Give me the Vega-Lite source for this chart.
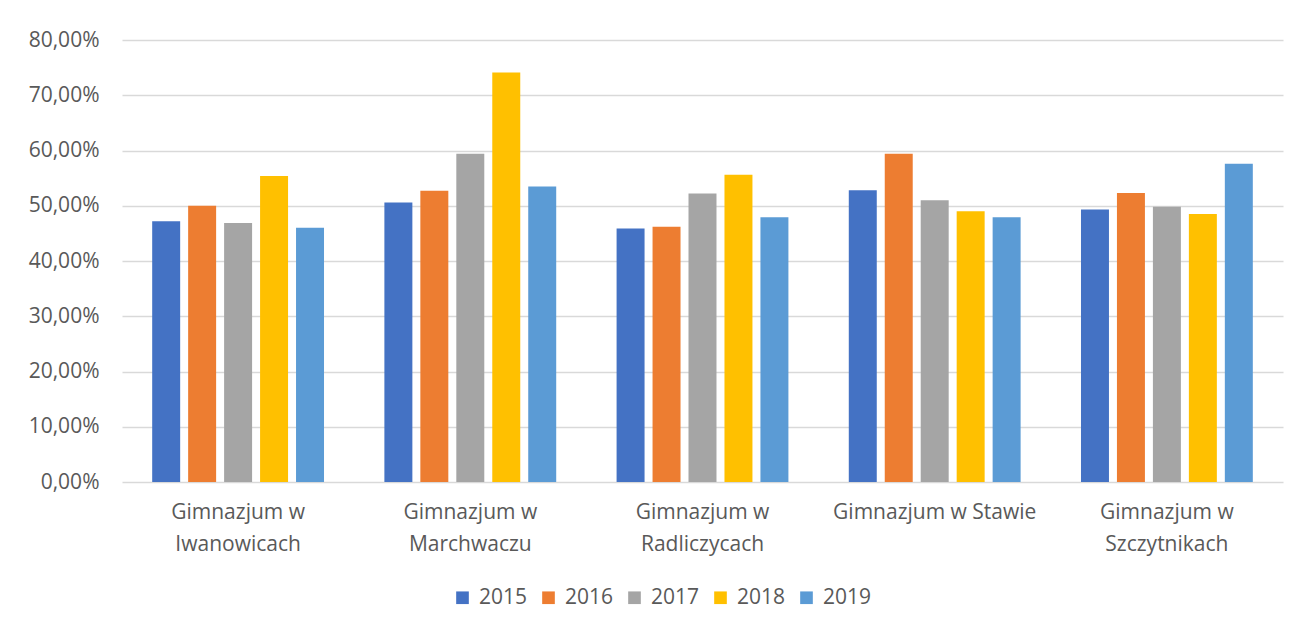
{
  "$schema": "https://vega.github.io/schema/vega-lite/v6.json",
  "width": 1161,
  "height": 442,
  "autosize": {"type": "none"},
  "padding": {"left": 122, "top": 40, "right": 21, "bottom": 143},
  "background": "#ffffff",
  "config": {
    "font": "Open Sans",
    "view": {"stroke": null},
    "axis": {"labelColor": "#595959", "labelFontSize": 21, "labelFont": "Open Sans"},
    "legend": {"labelColor": "#595959", "labelFontSize": 21, "labelFont": "Open Sans"}
  },
  "data": {
    "values": [
      {"school": "Gimnazjum w Iwanowicach", "year": "2015", "value": 0.472},
      {"school": "Gimnazjum w Iwanowicach", "year": "2016", "value": 0.500},
      {"school": "Gimnazjum w Iwanowicach", "year": "2017", "value": 0.469},
      {"school": "Gimnazjum w Iwanowicach", "year": "2018", "value": 0.554},
      {"school": "Gimnazjum w Iwanowicach", "year": "2019", "value": 0.460},
      {"school": "Gimnazjum w Marchwaczu", "year": "2015", "value": 0.506},
      {"school": "Gimnazjum w Marchwaczu", "year": "2016", "value": 0.527},
      {"school": "Gimnazjum w Marchwaczu", "year": "2017", "value": 0.594},
      {"school": "Gimnazjum w Marchwaczu", "year": "2018", "value": 0.741},
      {"school": "Gimnazjum w Marchwaczu", "year": "2019", "value": 0.535},
      {"school": "Gimnazjum w Radliczycach", "year": "2015", "value": 0.459},
      {"school": "Gimnazjum w Radliczycach", "year": "2016", "value": 0.462},
      {"school": "Gimnazjum w Radliczycach", "year": "2017", "value": 0.522},
      {"school": "Gimnazjum w Radliczycach", "year": "2018", "value": 0.556},
      {"school": "Gimnazjum w Radliczycach", "year": "2019", "value": 0.479},
      {"school": "Gimnazjum w Stawie", "year": "2015", "value": 0.528},
      {"school": "Gimnazjum w Stawie", "year": "2016", "value": 0.594},
      {"school": "Gimnazjum w Stawie", "year": "2017", "value": 0.510},
      {"school": "Gimnazjum w Stawie", "year": "2018", "value": 0.490},
      {"school": "Gimnazjum w Stawie", "year": "2019", "value": 0.479},
      {"school": "Gimnazjum w Szczytnikach", "year": "2015", "value": 0.493},
      {"school": "Gimnazjum w Szczytnikach", "year": "2016", "value": 0.523},
      {"school": "Gimnazjum w Szczytnikach", "year": "2017", "value": 0.498},
      {"school": "Gimnazjum w Szczytnikach", "year": "2018", "value": 0.485},
      {"school": "Gimnazjum w Szczytnikach", "year": "2019", "value": 0.576}
    ]
  },
  "mark": {"type": "bar"},
  "encoding": {
    "x": {
      "field": "school",
      "type": "nominal",
      "sort": null,
      "title": null,
      "scale": {"paddingInner": 0.26, "paddingOuter": 0.13},
      "axis": {
        "labelAngle": 0,
        "domain": false,
        "ticks": false,
        "labelPadding": 19,
        "labelLineHeight": 32,
        "labelLimit": 300,
        "labelBaseline": "top",
        "labelExpr": "datum.label == 'Gimnazjum w Stawie' ? datum.label : ['Gimnazjum w', slice(datum.label, 12)]"
      }
    },
    "xOffset": {
      "field": "year",
      "type": "nominal",
      "scale": {"paddingInner": 0.222, "paddingOuter": 0}
    },
    "y": {
      "field": "value",
      "type": "quantitative",
      "title": null,
      "scale": {"domain": [0, 0.8], "nice": false},
      "axis": {
        "values": [0, 0.1, 0.2, 0.3, 0.4, 0.5, 0.6, 0.7, 0.8],
        "labelOverlap": false,
        "domain": false,
        "ticks": false,
        "labelPadding": 23,
        "gridColor": "#d9d9d9",
        "gridWidth": 1.3,
        "labelExpr": "replace(format(datum.value, '.2%'), '.', ',')"
      }
    },
    "color": {
      "field": "year",
      "type": "nominal",
      "title": null,
      "scale": {
        "domain": ["2015", "2016", "2017", "2018", "2019"],
        "range": ["#4472C4", "#ED7D31", "#A5A5A5", "#FFC000", "#5B9BD5"]
      },
      "legend": {
        "orient": "none",
        "direction": "horizontal",
        "legendX": 330,
        "legendY": 547,
        "symbolType": "square",
        "symbolSize": 160,
        "symbolStrokeWidth": 0,
        "labelOffset": 6,
        "columnPadding": 10
      }
    }
  }
}
